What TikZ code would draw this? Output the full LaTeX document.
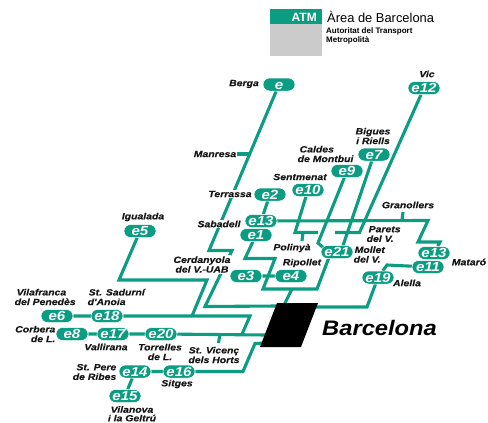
\documentclass[tikz,border=0pt]{standalone}
\usepackage{fontspec}
\newfontfamily\labfont[FakeStretch=1.16,FakeBold=0.35]{Liberation Sans}
\newfontfamily\pillfont[FakeStretch=1.14]{Liberation Sans}
\newfontfamily\bcnfont[FakeStretch=1.13]{Liberation Sans}
\newfontfamily\plainfont{Liberation Sans}
\usetikzlibrary{shapes.misc,backgrounds}
\definecolor{atmgreen}{HTML}{0C9C82}
\definecolor{atmgray}{HTML}{CBCBCB}
\definecolor{labink}{HTML}{161616}
\tikzset{
  pill/.style={rounded rectangle,rounded rectangle arc length=180,fill=atmgreen,draw=white,line width=0.5pt,
    minimum width=32pt,minimum height=13pt,inner sep=0pt,text=white,text height=9.2pt,text depth=0pt,
    font=\pillfont\bfseries\itshape\fontsize{13.2}{14}\selectfont},
  lab/.style={inner sep=0.5pt,text=labink,font=\labfont\bfseries\itshape\fontsize{9}{9.6}\selectfont,align=center},
  labhalo/.style={lab,fill=white,inner sep=1pt},
  linkline/.style={draw=atmgreen,line width=3.1pt,line join=miter},
  head/.style={inner sep=0pt,anchor=base west,text=black}
}
\begin{document}
\begin{tikzpicture}[x=1pt,y=-1pt]
\useasboundingbox (0,0) rectangle (488,423);
% ATM header
\path[fill=atmgray] (270,24) rectangle (322,56);
\path[fill=atmgreen] (270,9) rectangle (322,24);
\node[inner sep=0pt,anchor=base east,text=white,font=\plainfont\bfseries\fontsize{12}{12}\selectfont] (atm) at (317,21) {ATM};
\node[head,font=\plainfont\fontsize{12.9}{14}\selectfont] (area) at (327,23) {Àrea de Barcelona};
\node[head,font=\plainfont\bfseries\fontsize{8}{8}\selectfont] (aut) at (326,33) {Autoritat del Transport};
\node[head,font=\plainfont\bfseries\fontsize{8}{8}\selectfont] (met) at (326,42) {Metropolità};
% Barcelona block
\path[fill=black] (277,303) -- (318,303) -- (301,347) -- (260,347) -- cycle;
\node[inner sep=0pt,anchor=base west,text=black,font=\bcnfont\bfseries\itshape\fontsize{21}{22}\selectfont] (bcntext) at (322,335) {Barcelona};
% pills
\node[pill] (nB) at (279,84.5) {e\hspace{14pt}};
\node[pill] (n12) at (424,88) {e12};
\node[pill] (n7) at (374,154.5) {e7};
\node[pill] (n9) at (347,171) {e9};
\node[pill] (n10) at (308,190) {e10};
\node[pill] (n2) at (270,194.5) {e2};
\node[pill] (n13a) at (261,221) {e13};
\node[pill] (n1) at (256,235) {e1};
\node[pill] (n5) at (140,231) {e5};
\node[pill] (n21) at (337,252) {e21};
\node[pill] (n13b) at (434,253) {e13};
\node[pill] (n11) at (428,267) {e11};
\node[pill] (n3) at (246,276) {e3};
\node[pill] (n4) at (291,276) {e4};
\node[pill] (n19) at (378,277.5) {e19};
\node[pill] (n6) at (57,316) {e6};
\node[pill] (n18) at (107,316) {e18};
\node[pill] (n8) at (72,334) {e8};
\node[pill] (n17) at (113,334) {e17};
\node[pill] (n20) at (161,334) {e20};
\node[pill] (n14) at (135,371.5) {e14};
\node[pill] (n16) at (179,371.5) {e16};
\node[pill] (n15) at (125,396) {e15};
% labels
\node[lab] (lB) at (244,84) {Berga};
\node[lab] (lMan) at (215,154) {Manresa};
\node[labhalo] (lTer) at (230,194) {Terrassa};
\node[labhalo] (lSab) at (219,224) {Sabadell};
\node[labhalo] (lCer) at (202,264.5) {Cerdanyola\\del V.-UAB};
\node[lab] (lIgu) at (143,217) {Igualada};
\node[lab,align=left,anchor=west] (lVil) at (14,297) {\hspace{2pt}Vilafranca\\del Penedès};
\node[lab,align=left,anchor=west] (lSad) at (87,297) {\hspace{1pt}St. Sadurní\\d'Anoia};
\node[lab,align=right,anchor=east] (lCor) at (56,334) {Corbera\\de L.\hspace{2pt}};
\node[lab] (lVal) at (106,347) {Vallirana};
\node[lab] (lTor) at (160,352) {Torrelles\\de L.};
\node[lab] (lVic) at (214,355) {St. Vicenç\\dels Horts};
\node[lab,align=right,anchor=east] (lPer) at (117,372) {St. Pere\\de Ribes};
\node[lab] (lSit) at (177,384) {Sitges};
\node[lab,anchor=north,font=\labfont\bfseries\itshape\fontsize{9}{8.6}\selectfont] (lGel) at (132,405.5) {Vilanova\\i la Geltrú};
\node[lab] (lPol) at (292,248) {Polinyà};
\node[lab] (lRip) at (302,263) {Ripollet};
\node[lab] (lSen) at (300,177) {Sentmenat};
\node[lab,align=left,anchor=west] (lCal) at (297,154) {\hspace{2pt}Caldes\\de Montbui};
\node[lab] (lBig) at (373,136) {Bigues\\i Riells};
\node[lab] (lVc) at (427,74) {Vic};
\node[lab] (lGra) at (408,205) {Granollers};
\node[lab,align=left,anchor=west] (lPar) at (366,234) {\hspace{2pt}Parets\\del V.};
\node[lab,align=left,anchor=west] (lMol) at (353,254.5) {\hspace{1pt}Mollet\\del V.};
\node[lab] (lMat) at (469,262) {Mataró};
\node[lab] (lAle) at (407,283) {Alella};
% connectors
\begin{scope}[on background layer]
\coordinate (bTop) at (284,305);
\coordinate (bRight) at (315,307);
\coordinate (bLeftA) at (278,306);
\coordinate (bLeftB) at (266,335);
\coordinate (bLeftC) at (266,343);
\coordinate (c21in) at (326,250);
\coordinate (c21out) at (329.5,256);
\coordinate (c7in) at (341.5,250);
% Berga - Sabadell - Cerdanyola
\draw[linkline] (nB) -- (209,250.5) -- (232,250.5) -- (205,306.5) -- (bLeftA);
\draw[linkline] (lMan.east) -- (251,154);
% e5
\draw[linkline] (n5) -- (119,280) -- (207,280) -- (192,316);
% e6 e18
\draw[linkline] (n6) -- (n18);
\draw[linkline] (n18) -- (250,316) -- (242,334);
% e8 e17 e20
\draw[linkline] (n8) -- (n17);
\draw[linkline] (n17) -- (n20);
\draw[linkline] (n20) -- (bLeftB);
\draw[linkline] (220,334) -- (218.5,343);
% e14 e16
\draw[linkline] (n14) -- (n16);
\draw[linkline] (n16) -- (243,371.5) -- (255,343.5) -- (bLeftC);
\draw[linkline] (n14) -- (n15);
% e2 e13 e1
\draw[linkline] (n2) -- (n13a);
\draw[linkline] (n1) -- (245,258.5) -- (275,258.5) -- (263,289) -- (317,289) -- (c21out);
\draw[linkline] (n3) -- (n4);
\draw[linkline] (292,289) -- (bTop);
% e13 across
\draw[linkline] (n13a) -- (428,220.5) -- (418,242) -- (440,242) -- (n13b);
\draw[linkline] (402,220) -- (403,212);
% e10
\draw[linkline] (n10) -- (295,232.5) -- (318,232.5);
\draw[linkline] (303,232) -- (302,241);
% e9, e7, e12
\draw[linkline] (n9) -- (318,243) -- (c21in);
\draw[linkline] (n7) -- (c7in);
\draw[linkline] (n12) -- (359.5,232.5) -- (335,232.5);
% right side
\draw[linkline] (bRight) -- (367,307) -- (n19);
\draw[linkline] (n19) -- (387,265) -- (n11);
\end{scope}
\end{tikzpicture}
\end{document}
